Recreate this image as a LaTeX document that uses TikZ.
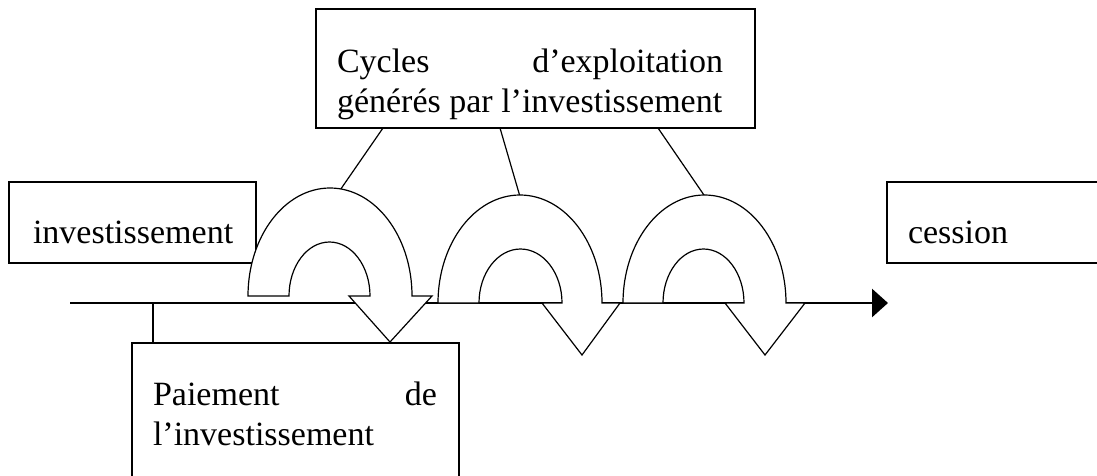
\documentclass[tikz,border=0pt]{standalone}
\usepackage{fontspec}
\setmainfont{Liberation Serif}
\usetikzlibrary{arrows.meta}
\tikzset{
  box/.style={draw, line width=1.2pt, fill=white, inner sep=0pt, outer sep=0pt, anchor=north west},
  txt/.style={inner sep=0pt, outer sep=0pt, anchor=base west, font=\fontsize{34}{40}\selectfont},
  uarrow/.style={draw, fill=white, line width=1.2pt, line join=miter},
  link/.style={draw, line width=1.2pt},
  axisline/.style={line width=2.8pt, -{Triangle[length=16pt,width=28pt]}}
}
\begin{document}
\begin{tikzpicture}[x=1pt,y=-1pt]
\useasboundingbox (0,0) rectangle (1097,475);
\clip (0,0) rectangle (1097,475);
\fill[white] (0,0) rectangle (1097,475);

% axis
\coordinate (a0) at (70,303);
\coordinate (a1) at (888,303);
\draw[axisline] (a0) -- (a1);

% boxes
\node[box, minimum width=439pt, minimum height=119pt] (top) at (316,9) {};
\node[box, minimum width=247pt, minimum height=81pt] (inv) at (9,182) {};
\node[box, minimum width=240pt, minimum height=81pt] (ces) at (887,182) {};
\node[box, minimum width=327pt, minimum height=150pt] (pay) at (132,343) {};

% texts
\node[txt] (toptxt) at (337,72) {\parbox[t]{386pt}{\fontsize{34}{40}\selectfont Cycles\hfill d’exploitation\\générés par l’investissement}};
\node[txt] (invtxt) at (33,243) {investissement};
\node[txt] (cestxt) at (908,243) {cession};
\node[txt] (paytxt) at (153,405) {\parbox[t]{284pt}{\fontsize{34}{40}\selectfont Paiement\hfill de\\l’investissement}};

% connector axis -> Paiement
\coordinate (p1) at (153,303);
\draw[link] (p1) -- (p1 |- pay.north);

% connectors top box -> cycles
\coordinate (u1top) at (336,196);
\coordinate (u2top) at (521,200);
\coordinate (u3top) at (706,198);
\draw[link] ([xshift=67pt]top.south west) -- (u1top);
\draw[link] ([xshift=184pt]top.south west) -- (u2top);
\draw[link] ([xshift=342pt]top.south west) -- (u3top);

% U-turn arrows
\draw[uarrow] (248,296) arc[start angle=180,end angle=0,x radius=82pt,y radius=108pt]
  -- (432,296) -- (390,342) -- (349,296) -- (370,296)
  arc[start angle=0,end angle=180,x radius=40.5pt,y radius=54pt] -- cycle;
\draw[uarrow] (438,303) arc[start angle=180,end angle=0,x radius=82pt,y radius=108pt]
  -- (620,303) -- (582,355) -- (542,303) -- (562,303)
  arc[start angle=0,end angle=180,x radius=41.5pt,y radius=54pt] -- cycle;
\draw[uarrow] (623,303) arc[start angle=180,end angle=0,x radius=81.5pt,y radius=108pt]
  -- (805,303) -- (765,355) -- (725,303) -- (744,303)
  arc[start angle=0,end angle=180,x radius=40.5pt,y radius=54pt] -- cycle;
\end{tikzpicture}
\end{document}
